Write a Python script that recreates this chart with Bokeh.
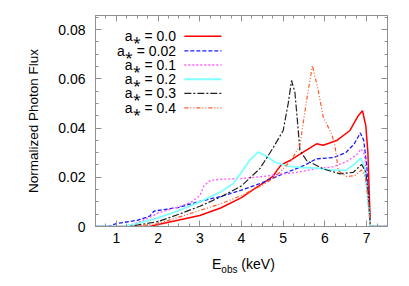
from bokeh.plotting import figure
from bokeh.models import (LinearAxis, FixedTicker, CustomJSTickFormatter, Range1d, Div)
from bokeh.layouts import column
from bokeh.embed import file_html
from bokeh.resources import INLINE
from bokeh.core.properties import value

# ---- data ----
x_a00 = [0.5, 1.8, 2.0, 2.5, 3.0, 3.5, 4.0, 4.35, 4.6, 4.76, 4.85, 4.95, 5.16, 5.48, 5.8, 5.96, 6.28, 6.6, 6.8, 6.9, 6.98, 7.03, 7.09, 7.5]
y_a00 = [0, 0, 0.0008, 0.0026, 0.0045, 0.0075, 0.0117, 0.0158, 0.0185, 0.0205, 0.0228, 0.0250, 0.0268, 0.0302, 0.0336, 0.0330, 0.0349, 0.039, 0.045, 0.047, 0.041, 0.03, 0, 0]

x_a002 = [0.5, 0.8, 1.0, 1.5, 1.8, 1.9, 2.0, 2.5, 3.0, 3.5, 4.0, 4.5, 5.0, 5.5, 5.8, 6.2, 6.5, 6.7, 6.85, 6.93, 7.0, 7.09, 7.5]
y_a002 = [0, 0, 0.0012, 0.0025, 0.0042, 0.0062, 0.0065, 0.0078, 0.0102, 0.0122, 0.0148, 0.0178, 0.0214, 0.0248, 0.0275, 0.028, 0.030, 0.0335, 0.0380, 0.035, 0.025, 0, 0]

x_a01 = [0.5, 1.2, 1.5, 1.9, 2.0, 2.5, 2.8, 3.0, 3.1, 3.25, 3.5, 4.0, 4.5, 5.0, 5.4, 5.8, 6.2, 6.5, 6.75, 6.87, 6.95, 7.0, 7.09, 7.5]
y_a01 = [0, 0, 0.0015, 0.0045, 0.0055, 0.0080, 0.0100, 0.0125, 0.0165, 0.0187, 0.0192, 0.0195, 0.0203, 0.0214, 0.0222, 0.0235, 0.0243, 0.0262, 0.029, 0.0315, 0.029, 0.02, 0, 0]

x_a02 = [0.5, 1.2, 1.5, 2.0, 2.5, 3.0, 3.5, 3.8, 4.0, 4.2, 4.4, 4.6, 4.8, 5.1, 5.4, 5.8, 6.2, 6.5, 6.72, 6.86, 6.95, 7.0, 7.09, 7.5]
y_a02 = [0, 0, 0.0012, 0.0035, 0.0065, 0.0100, 0.0140, 0.0175, 0.0220, 0.0270, 0.0302, 0.0285, 0.0262, 0.0245, 0.0240, 0.0237, 0.0228, 0.0228, 0.0255, 0.0278, 0.024, 0.016, 0, 0]

x_a03 = [0.5, 1.3, 2.0, 2.5, 3.0, 3.5, 4.0, 4.44, 4.76, 5.0, 5.12, 5.2, 5.28, 5.33, 5.4, 5.56, 5.96, 6.36, 6.68, 6.88, 6.98, 7.03, 7.09, 7.5]
y_a03 = [0, 0, 0.002, 0.005, 0.0082, 0.012, 0.0165, 0.0235, 0.0320, 0.039, 0.050, 0.0593, 0.0545, 0.045, 0.031, 0.0268, 0.0234, 0.0214, 0.022, 0.0252, 0.022, 0.015, 0, 0]

x_a04 = [0.5, 1.4, 2.0, 2.5, 3.0, 3.5, 4.0, 4.5, 4.8, 5.0, 5.2, 5.4, 5.56, 5.7, 5.84, 5.96, 6.16, 6.24, 6.32, 6.52, 6.72, 6.88, 6.97, 7.03, 7.09, 7.5]
y_a04 = [0, 0, 0.0012, 0.0038, 0.0065, 0.0092, 0.0126, 0.0168, 0.0200, 0.0235, 0.0270, 0.0330, 0.0512, 0.0654, 0.0552, 0.0444, 0.0376, 0.0329, 0.0227, 0.0203, 0.0207, 0.023, 0.02, 0.012, 0, 0]

labels = ["a\u204e = 0.0", "a\u204e = 0.02", "a\u204e = 0.1", "a\u204e = 0.2", "a\u204e = 0.3", "a\u204e = 0.4"]
x_ticks = [1, 2, 3, 4, 5, 6, 7]
y_ticks = [0, 0.02, 0.04, 0.06, 0.08]

series = [
    (x_a00, y_a00, "#ff0000", "solid", 1.5),
    (x_a002, y_a002, "#1a1aff", "4 2", 1.3),
    (x_a01, y_a01, "#ff55ff", "2 2", 1.3),
    (x_a02, y_a02, "#7fffff", "solid", 1.8),
    (x_a03, y_a03, "#222222", "7 2 2 2", 1.2),
    (x_a04, y_a04, "#ff5a28", "4 2 1 2 1 2", 1.2),
]

FONT = "Liberation Sans"
GRAY = "#909090"

p = figure(width=409, height=248, output_backend="svg", toolbar_location=None,
           x_range=Range1d(0.5, 7.5), y_range=Range1d(0, 0.0857),
           min_border_left=95, min_border_right=22, min_border_top=15, min_border_bottom=22)
p.xgrid.visible = False
p.ygrid.visible = False
p.outline_line_color = GRAY
p.background_fill_color = "white"

xminor = [0.5 + 0.25 * i for i in range(29)]
yminor = [0.005 * i for i in range(18)]

def style(ax, ticks, minor, labels_on):
    ax.ticker = FixedTicker(ticks=ticks, minor_ticks=minor)
    ax.axis_line_color = GRAY
    ax.major_tick_line_color = GRAY
    ax.minor_tick_line_color = GRAY
    ax.major_tick_in = 6
    ax.major_tick_out = 0
    ax.minor_tick_in = 3
    ax.minor_tick_out = 0
    ax.major_label_text_font = FONT
    ax.major_label_text_font_size = "14px" if labels_on else "0px"
    ax.major_label_text_color = "black"
    ax.axis_label_text_font = FONT
    ax.axis_label_text_font_size = "13.5px"
    ax.axis_label_text_font_style = "normal"
    ax.axis_label_text_color = "black"

style(p.xaxis[0], x_ticks, xminor, True)
style(p.yaxis[0], y_ticks, yminor, True)
p.xaxis[0].major_label_standoff = 6
p.yaxis[0].major_label_standoff = 10
p.yaxis[0].formatter = CustomJSTickFormatter(code="return tick == 0 ? '0' : tick.toFixed(2);")
p.yaxis[0].axis_label = "Normalized Photon Flux"
p.yaxis[0].axis_label_standoff = 14

ax_r = LinearAxis()
style(ax_r, y_ticks, yminor, False)
ax_r.formatter = CustomJSTickFormatter(code="return '';")
ax_r.major_label_standoff = 0
p.add_layout(ax_r, "right")
ax_t = LinearAxis()
style(ax_t, x_ticks, xminor, False)
ax_t.formatter = CustomJSTickFormatter(code="return '';")
ax_t.major_label_standoff = 0
p.add_layout(ax_t, "above")

for (xs, ys, c, d, w) in series:
    p.line(xs, ys, line_color=c, line_dash=d, line_width=w)

# legend (text right, sample line to the right)
leg_y = [0.0773, 0.0713, 0.0656, 0.0598, 0.0541, 0.0482]
p.text(x=[2.43] * 6, y=leg_y, text=labels, text_align="right", text_baseline="middle",
       text_font=value(FONT), text_font_size="14px", text_color="black")
for (s, yy) in zip(series, leg_y):
    p.line([2.63, 3.52], [yy, yy], line_color=s[2], line_dash=s[3], line_width=s[4])

# x axis label with subscript
xlabel = Div(text="E<sub style='font-size:10px'>obs</sub> (keV)", width=409, height=38,
             styles={"font-family": FONT, "font-size": "14px", "color": "black",
                     "padding-left": "207px", "padding-top": "1px", "box-sizing": "border-box"})

layout = column(p, xlabel, spacing=0)
open("out.html", "w").write(file_html(layout, INLINE))
